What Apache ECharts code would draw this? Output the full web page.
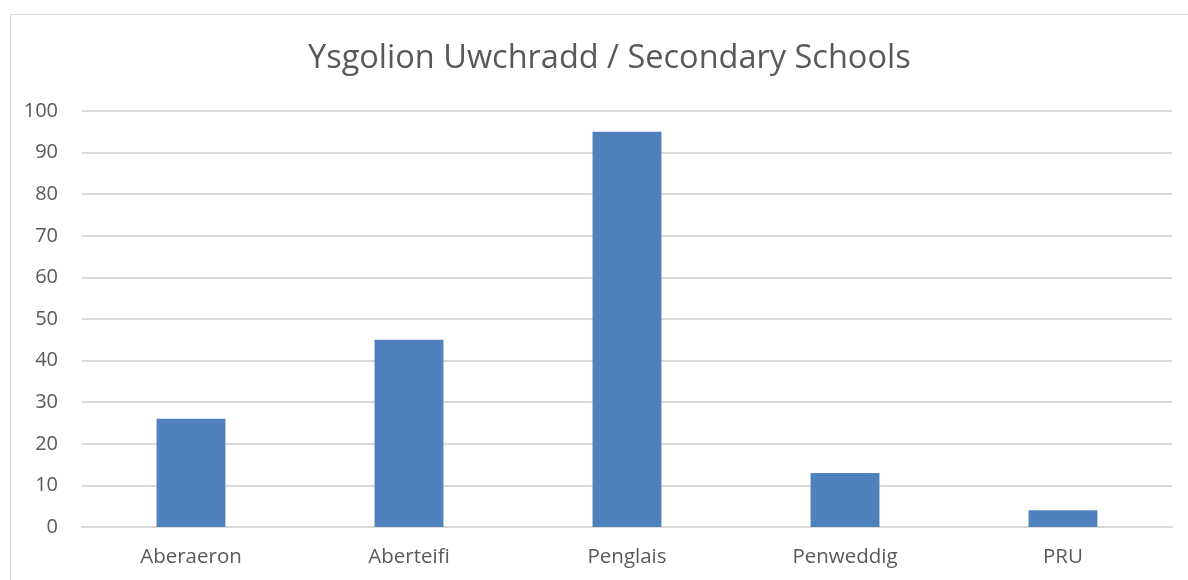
<!DOCTYPE html>
<html>
<head>
    <meta charset="utf-8">
    <title>Ysgolion Uwchradd / Secondary Schools</title>
    <script type="text/javascript" src="https://cdn.jsdelivr.net/npm/echarts@6/dist/echarts.min.js"></script>
    <style>
        html, body {
            margin: 0;
            padding: 0;
            background: #fff;
            overflow: hidden;
        }

        #frame {
            position: absolute;
            left: 10px;
            top: 14px;
            width: 1200px;
            height: 600px;
            border: 1px solid #d9d9d9;
            box-sizing: border-box;
        }

        #chart {
            position: absolute;
            left: 0;
            top: 0;
            width: 1188px;
            height: 580px;
        }
    </style>
</head>
<body>
    <div id="frame"></div>
    <div id="chart"></div>
<script type="text/javascript">
    var schools = ['Aberaeron', 'Aberteifi', 'Penglais', 'Penweddig', 'PRU'];
    var pupils = [26, 45, 95, 13, 4];

    var textColor = '#595959';
    var lineColor = '#d9d9d9';
    var font = 'Open Sans';

    var option = {
        animation: false,
        title: {
            text: 'Ysgolion Uwchradd / Secondary Schools',
            left: 303,
            top: 37,
            textStyle: {
                color: textColor,
                fontFamily: font,
                fontSize: 32.5,
                fontWeight: 'normal'
            }
        },
        grid: {
            left: 82,
            right: 16,
            top: 111,
            bottom: 53
        },
        xAxis: {
            type: 'category',
            data: schools,
            axisTick: { show: false },
            axisLine: { lineStyle: { color: lineColor, width: 2 } },
            axisLabel: {
                color: textColor,
                fontFamily: font,
                fontSize: 20.5,
                margin: 20
            }
        },
        yAxis: {
            type: 'value',
            min: 0,
            max: 100,
            interval: 10,
            axisLine: { show: false },
            axisTick: { show: false },
            splitLine: { lineStyle: { color: lineColor, width: 2 } },
            axisLabel: {
                color: textColor,
                fontFamily: font,
                fontSize: 20,
                margin: 24
            }
        },
        series: [{
            type: 'bar',
            data: pupils,
            barWidth: '31.6%',
            itemStyle: { color: '#4f81bd' }
        }]
    };

    var myChart = echarts.init(document.getElementById('chart'));
    myChart.setOption(option);
</script>
</body>
</html>
